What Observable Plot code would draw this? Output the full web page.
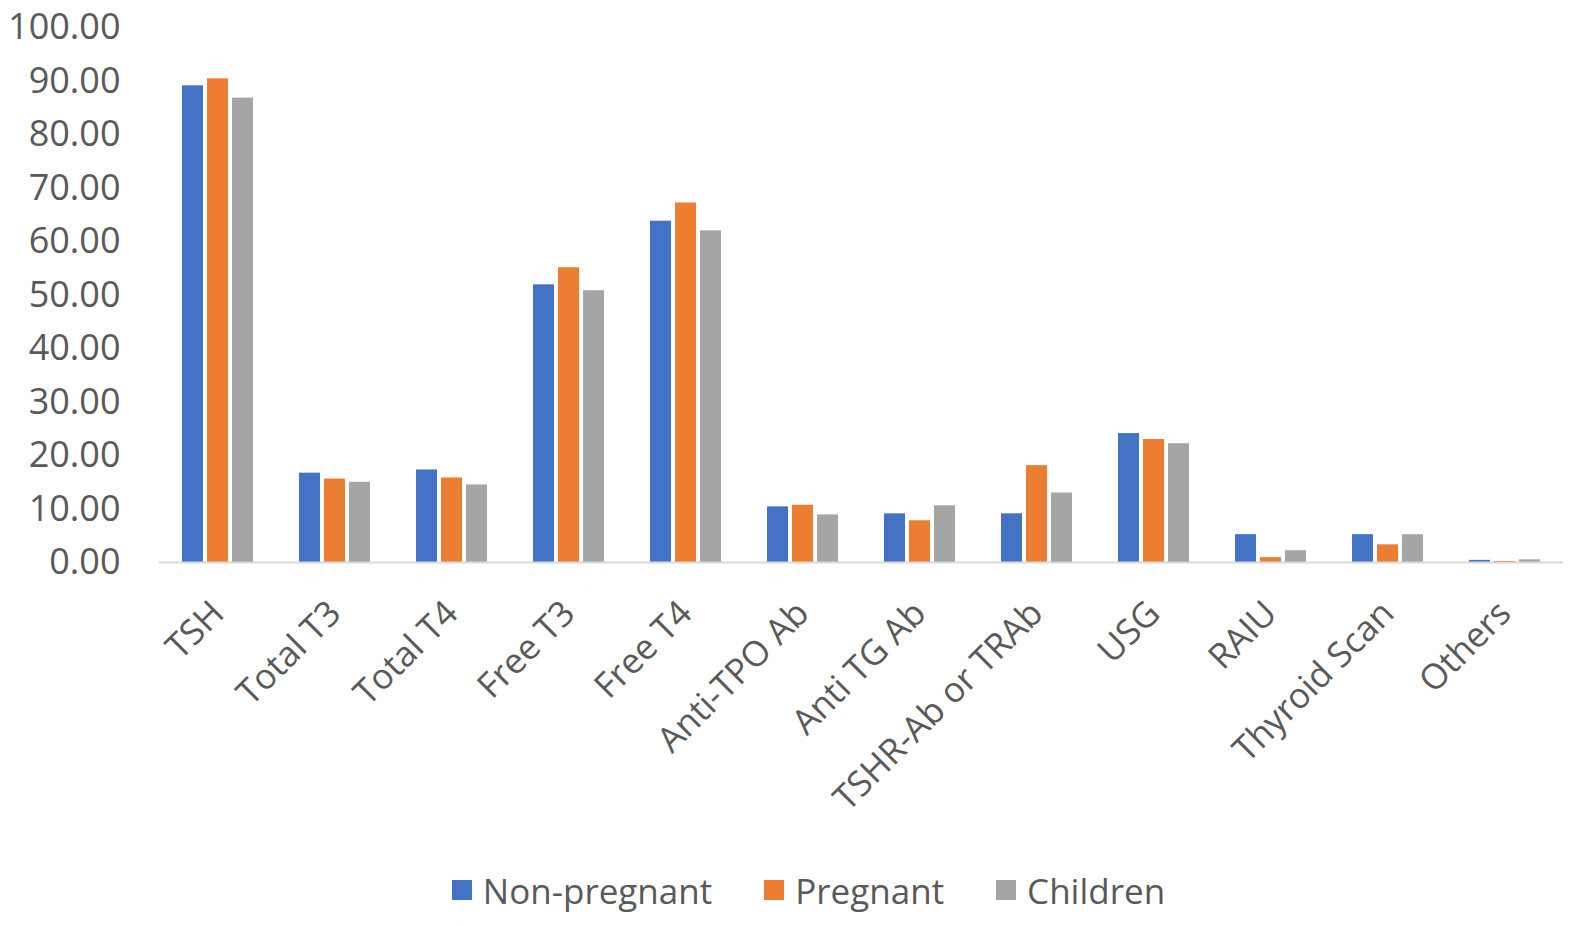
<!DOCTYPE html>
<html>
<head>
<meta charset="utf-8">
<script src="https://cdn.jsdelivr.net/npm/d3@7"></script>
<script src="https://cdn.jsdelivr.net/npm/@observablehq/plot@0.6"></script>
<style>
  body { margin: 0; background: #fff; font-family: "Open Sans", sans-serif; }
  #legend { display: flex; justify-content: center; align-items: center; height: 60px; color: #595959; font-size: 35px; padding-left: 38px; }
  .item { display: flex; align-items: center; margin: 0 26px; }
  .sw { width: 20px; height: 20px; margin-right: 11px; }
</style>
</head>
<body>
<div id="chart"></div>
<div id="legend"></div>
<script>
const categories = ["TSH", "Total T3", "Total T4", "Free T3", "Free T4", "Anti-TPO Ab", "Anti TG Ab", "TSHR-Ab or TRAb", "USG", "RAIU", "Thyroid Scan", "Others"];
const series = ["Non-pregnant", "Pregnant", "Children"];
const colors = ["#4472C4", "#ED7D31", "#A5A5A5"];
const nonPregnant = [89.1, 16.7, 17.3, 51.9, 63.8, 10.4, 9.1, 9.1, 24.1, 5.2, 5.2, 0.4];
const pregnant    = [90.4, 15.6, 15.8, 55.1, 67.2, 10.7, 7.8, 18.1, 23.0, 0.9, 3.3, 0.2];
const children    = [86.8, 15.0, 14.5, 50.8, 62.0, 8.9, 10.6, 13.0, 22.2, 2.2, 5.2, 0.5];
const yTicks = [0, 10, 20, 30, 40, 50, 60, 70, 80, 90, 100];

const valuesBySeries = [nonPregnant, pregnant, children];
const data = [];
categories.forEach((c, i) => {
  series.forEach((s, j) => data.push({category: c, series: s, value: valuesBySeries[j][i]}));
});

const chart = Plot.plot({
  width: 1579,
  height: 860,
  marginLeft: 157,
  marginRight: 15,
  marginTop: 27,
  marginBottom: 298,
  style: {fontFamily: "'Open Sans', sans-serif", fontSize: "32px", color: "#595959", background: "#fff"},
  fx: {domain: categories, paddingInner: 0, paddingOuter: 0, label: null},
  x: {domain: series, paddingInner: 0.176, paddingOuter: 0.89, axis: null},
  y: {domain: [0, 100], ticks: yTicks, label: null},
  color: {domain: series, range: colors},
  marks: [
    Plot.axisY({ticks: yTicks, tickFormat: d3.format(".2f"), tickSize: 0, tickPadding: 39, label: null, fontSize: 36}),
    Plot.axisFx({anchor: "bottom", tickSize: 0, tickRotate: -45, tickPadding: 45, label: null, fontSize: 35}),
    Plot.barY(data, {fx: "category", x: "series", y: "value", fill: "series"}),
    Plot.ruleY([0], {stroke: "#d9d9d9", strokeWidth: 2})
  ]
});
document.getElementById("chart").append(chart);

const legend = document.getElementById("legend");
series.forEach((s, j) => {
  const it = document.createElement("div");
  it.className = "item";
  const sw = document.createElement("div");
  sw.className = "sw";
  sw.style.background = colors[j];
  const t = document.createElement("span");
  t.textContent = s;
  it.append(sw, t);
  legend.append(it);
});
</script>
</body>
</html>
